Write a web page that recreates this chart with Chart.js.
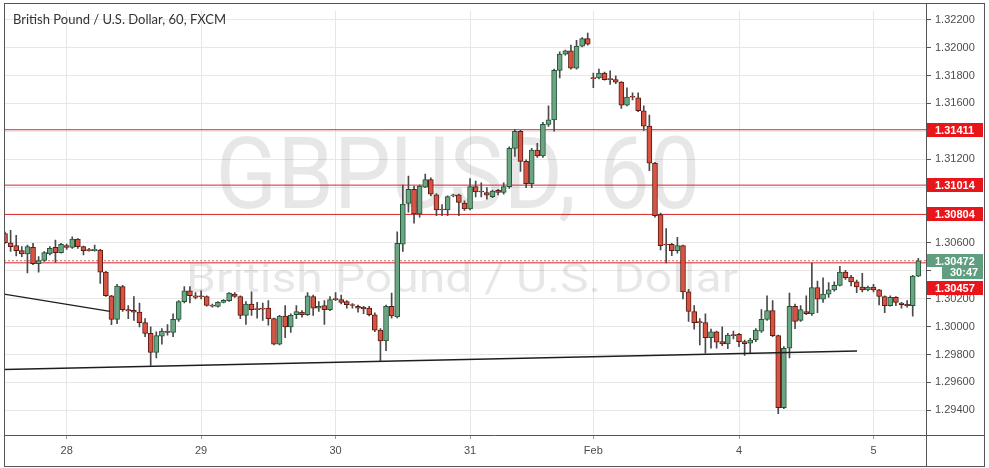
<!DOCTYPE html>
<html>
<head>
<meta charset="utf-8">
<title>GBPUSD 60</title>
<script src="https://cdn.jsdelivr.net/npm/chart.js@4.4.0/dist/chart.umd.min.js"></script>
<style>
  html, body { margin: 0; padding: 0; background: #fff; }
  #wrap { width: 989px; height: 468px; }
</style>
</head>
<body>
<div id="wrap"><canvas id="chart" width="989" height="468"></canvas></div>
<script>
'use strict';

// hourly GBP/USD candles, oldest first
const opens = [
  1.30667,1.30601,1.30580,1.30545,1.30521,1.30568,1.30451,1.30474,1.30521,1.30568,
  1.30530,1.30580,1.30568,1.30627,1.30573,1.30549,1.30545,1.30549,1.30390,1.30221,
  1.30052,1.30287,1.30122,1.30116,1.30104,1.30029,1.29951,1.29815,1.29932,1.29968,
  1.29958,1.30052,1.30179,1.30256,1.30221,1.30216,1.30216,1.30155,1.30144,1.30174,
  1.30186,1.30233,1.30216,1.30080,1.30162,1.30127,1.30132,1.30132,1.30057,1.29874,
  1.30076,1.29998,1.30085,1.30104,1.30085,1.30216,1.30132,1.30151,1.30122,1.30198,
  1.30193,1.30179,1.30158,1.30146,1.30139,1.30132,1.30085,1.29975,1.29897,1.30146,
  1.30069,1.30590,1.30883,1.30984,1.30808,1.31000,1.31054,1.30944,1.30840,1.30836,
  1.30937,1.30944,1.30886,1.30843,1.31003,1.30972,1.30961,1.30932,1.30977,1.30961,
  1.31003,1.31278,1.31399,1.31184,1.31024,1.31266,1.31223,1.31449,1.31482,1.31836,
  1.31953,1.31977,1.31852,1.32010,1.32064,1.31782,1.31782,1.31817,1.31775,1.31770,
  1.31752,1.31587,1.31648,1.31639,1.31547,1.31437,1.31172,1.30803,1.30592,1.30590,
  1.30545,1.30580,1.30249,1.30108,1.30033,1.30029,1.29921,1.29963,1.29892,1.29876,
  1.29939,1.29944,1.29892,1.29881,1.29904,1.29968,1.30052,1.30115,1.29935,1.29418,
  1.29845,1.30146,1.30045,1.30108,1.30092,1.30280,1.30197,1.30233,1.30263,1.30296,
  1.30390,1.30355,1.30320,1.30284,1.30263,1.30284,1.30263,1.30216,1.30150,1.30209,
  1.30169,1.30160,1.30150,1.30362
];
const highs = [
  1.30678,1.30690,1.30655,1.30573,1.30584,1.30596,1.30502,1.30537,1.30573,1.30620,
  1.30596,1.30592,1.30643,1.30631,1.30577,1.30561,1.30584,1.30554,1.30397,1.30225,
  1.30303,1.30296,1.30150,1.30216,1.30169,1.30057,1.29998,1.29963,1.29986,1.30015,
  1.30092,1.30186,1.30287,1.30287,1.30244,1.30256,1.30221,1.30162,1.30179,1.30193,
  1.30244,1.30244,1.30221,1.30179,1.30249,1.30174,1.30169,1.30186,1.30061,1.30080,
  1.30151,1.30092,1.30151,1.30115,1.30244,1.30226,1.30179,1.30186,1.30216,1.30244,
  1.30226,1.30186,1.30165,1.30155,1.30146,1.30146,1.30099,1.29986,1.30155,1.30240,
  1.30679,1.31014,1.31078,1.31007,1.31014,1.31094,1.31066,1.30953,1.30874,1.30937,
  1.30949,1.30949,1.30902,1.31061,1.31043,1.31031,1.30996,1.30979,1.30984,1.31031,
  1.31289,1.31414,1.31407,1.31195,1.31278,1.31313,1.31465,1.31583,1.31845,1.31970,
  1.31982,1.32017,1.32052,1.32071,1.32104,1.31817,1.31845,1.31824,1.31833,1.31798,
  1.31756,1.31712,1.31676,1.31676,1.31583,1.31517,1.31177,1.30813,1.30702,1.30597,
  1.30639,1.30585,1.30268,1.30151,1.30057,1.30092,1.29982,1.29968,1.29998,1.29951,
  1.29968,1.29951,1.29904,1.29916,1.29986,1.30122,1.30221,1.30186,1.29939,1.29857,
  1.30240,1.30162,1.30151,1.30221,1.30456,1.30327,1.30350,1.30315,1.30320,1.30432,
  1.30404,1.30367,1.30334,1.30381,1.30291,1.30303,1.30268,1.30221,1.30221,1.30216,
  1.30174,1.30186,1.30367,1.30490
];
const lows = [
  1.30596,1.30538,1.30507,1.30502,1.30385,1.30444,1.30390,1.30467,1.30514,1.30460,
  1.30526,1.30554,1.30561,1.30561,1.30514,1.30540,1.30540,1.30310,1.30216,1.30014,
  1.30021,1.30108,1.30057,1.30045,1.29998,1.29928,1.29721,1.29775,1.29874,1.29939,
  1.29928,1.30038,1.30169,1.30169,1.30198,1.30198,1.30146,1.30139,1.30139,1.30169,
  1.30181,1.30209,1.30057,1.30015,1.30080,1.30061,1.30045,1.30010,1.29869,1.29869,
  1.29921,1.29958,1.30057,1.30068,1.30080,1.30080,1.30108,1.30015,1.30115,1.30186,
  1.30162,1.30132,1.30132,1.30104,1.30092,1.30076,1.29963,1.29756,1.29827,1.30061,
  1.30062,1.30538,1.30820,1.30742,1.30784,1.30996,1.30937,1.30796,1.30796,1.30796,
  1.30930,1.30796,1.30832,1.30836,1.30930,1.30930,1.30914,1.30925,1.30944,1.30949,
  1.30991,1.31219,1.31113,1.30996,1.30996,1.31212,1.31212,1.31435,1.31400,1.31782,
  1.31946,1.31845,1.31845,1.32005,1.32017,1.31712,1.31775,1.31766,1.31735,1.31742,
  1.31564,1.31582,1.31625,1.31540,1.31407,1.31118,1.30785,1.30550,1.30456,1.30508,
  1.30526,1.30198,1.30038,1.29982,1.29869,1.29810,1.29845,1.29845,1.29864,1.29841,
  1.29911,1.29857,1.29794,1.29810,1.29892,1.29958,1.30045,1.29928,1.29376,1.29411,
  1.29775,1.29986,1.30038,1.30085,1.30080,1.30099,1.30174,1.30209,1.30254,1.30291,
  1.30338,1.30291,1.30244,1.30249,1.30256,1.30249,1.30155,1.30099,1.30146,1.30150,
  1.30132,1.30139,1.30075,1.30357
];
const closes = [
  1.30601,1.30573,1.30545,1.30521,1.30573,1.30451,1.30474,1.30530,1.30561,1.30530,
  1.30589,1.30568,1.30627,1.30573,1.30545,1.30545,1.30554,1.30390,1.30221,1.30052,
  1.30291,1.30122,1.30113,1.30104,1.30029,1.29951,1.29815,1.29935,1.29968,1.29958,
  1.30052,1.30179,1.30256,1.30221,1.30209,1.30214,1.30151,1.30146,1.30174,1.30188,
  1.30240,1.30216,1.30080,1.30162,1.30122,1.30122,1.30125,1.30057,1.29874,1.30076,
  1.29998,1.30080,1.30108,1.30085,1.30221,1.30132,1.30146,1.30122,1.30193,1.30193,
  1.30174,1.30158,1.30151,1.30132,1.30127,1.30085,1.29975,1.29897,1.30146,1.30076,
  1.30597,1.30878,1.30984,1.30808,1.31007,1.31054,1.30949,1.30836,1.30836,1.30932,
  1.30944,1.30890,1.30843,1.31003,1.30965,1.30965,1.30942,1.30972,1.30961,1.31003,
  1.31278,1.31399,1.31184,1.31024,1.31266,1.31223,1.31449,1.31482,1.31836,1.31953,
  1.31977,1.31852,1.32010,1.32064,1.32024,1.31777,1.31817,1.31770,1.31770,1.31752,
  1.31587,1.31646,1.31644,1.31547,1.31437,1.31172,1.30796,1.30580,1.30585,1.30545,
  1.30580,1.30249,1.30109,1.30029,1.30029,1.29921,1.29963,1.29888,1.29876,1.29939,
  1.29935,1.29892,1.29878,1.29904,1.29975,1.30052,1.30115,1.29935,1.29418,1.29845,
  1.30146,1.30038,1.30122,1.30092,1.30280,1.30197,1.30233,1.30263,1.30296,1.30390,
  1.30350,1.30320,1.30284,1.30263,1.30284,1.30263,1.30216,1.30150,1.30209,1.30174,
  1.30158,1.30150,1.30362,1.30472
];

// day separators: label and candle index where the day starts
const dayLabels = ['28', '29', '30', '31', 'Feb', '4', '5'];
const dayIndex = [11, 35, 59, 83, 105, 131, 155];

const priceTicks = [1.294, 1.296, 1.298, 1.300, 1.302, 1.304, 1.306, 1.308,
                    1.310, 1.312, 1.314, 1.316, 1.318, 1.320, 1.322];

// horizontal levels drawn on the chart, plus the live price
const levels = [1.31411, 1.31014, 1.30804, 1.30457];
const lastPrice = 1.30472;
const countdown = '30:47';

// trend lines as [candle index, price] pairs
const trendUpper = [[-0.18, 1.30233], [18.74, 1.30109]];
const trendLower = [[-0.18, 1.29692], [152.06, 1.29825]];

const title = 'British Pound / U.S. Dollar, 60, FXCM';
const markBig = 'GBPUSD, 60';
const markSmall = 'British Pound / U.S. Dollar';

const xMin = -0.18, xMax = 164.37;
const yMin = 1.29223, yMax = 1.32265;
const PLOT_H = 432;
const perPx = (yMax - yMin) / PLOT_H;

const UP = '#6ba583', DOWN = '#d75442';
const UP_EDGE = '#225437', DOWN_EDGE = '#5b1a13';
const LEVEL = '#d8262b';

const isUp = closes.map((c, i) => c >= opens[i]);

// where the axis tags sit, in price units
const tagSpots = levels.slice(0, 3).concat([lastPrice, lastPrice - 11.5 * perPx, lastPrice - 27.5 * perPx]);

function fitText(ctx, text, cx, y, font, width) {
  ctx.font = font;
  const w = ctx.measureText(text).width;
  ctx.save();
  ctx.translate(cx, y);
  ctx.scale(width / w, 1);
  ctx.textAlign = 'center';
  ctx.fillText(text, 0, 0);
  ctx.restore();
}

function tag(ctx, x0, x1, yc, h, bg, text) {
  ctx.fillStyle = bg;
  ctx.fillRect(x0, Math.round(yc - h / 2), x1 - x0, h);
  ctx.fillStyle = '#fff';
  ctx.font = 'bold 11px "Liberation Sans"';
  ctx.textAlign = 'left';
  ctx.textBaseline = 'middle';
  ctx.fillText(text, x0 + 8, Math.round(yc) + 0.5);
}

const decor = {
  id: 'decor',
  beforeDatasetsDraw(chart) {
    const { ctx, chartArea: a } = chart;
    ctx.save();
    ctx.beginPath();
    ctx.rect(a.left, a.top, a.right - a.left, a.bottom - a.top);
    ctx.clip();
    ctx.fillStyle = 'rgba(0,0,0,0.095)';
    ctx.textBaseline = 'alphabetic';
    fitText(ctx, markBig, 458, 208, '100px Roboto', 485);
    fitText(ctx, markSmall, 462, 292, '40px Roboto', 552);
    ctx.restore();
  },
  afterDraw(chart) {
    const { ctx, chartArea: a } = chart;
    const y = chart.scales.y;
    ctx.save();
    // title
    ctx.fillStyle = '#333';
    ctx.font = '13px Lato';
    ctx.textAlign = 'left';
    ctx.textBaseline = 'alphabetic';
    ctx.fillText(title, 13, 24);
    // frame
    ctx.strokeStyle = '#555';
    ctx.lineWidth = 1;
    ctx.strokeRect(4.5, 3.5, 980, 463);
    ctx.beginPath();
    ctx.moveTo(a.right + 0.5, 3);
    ctx.lineTo(a.right + 0.5, 467);
    ctx.moveTo(4, a.bottom + 0.5);
    ctx.lineTo(985, a.bottom + 0.5);
    ctx.stroke();
    // price tags on the axis
    const x0 = a.right + 1, x1 = 983;
    levels.slice(0, 3).forEach(v => tag(ctx, x0, x1, y.getPixelForValue(v), 14, '#e8161b', v.toFixed(5)));
    const ly = y.getPixelForValue(lastPrice);
    tag(ctx, x0, x1, ly, 13, '#5f9e7f', lastPrice.toFixed(5));
    tag(ctx, 942, x1, ly + 11.5, 13, '#5f9e7f', countdown);
    tag(ctx, x0, x1, ly + 27.5, 14, '#e8161b', levels[3].toFixed(5));
    ctx.restore();
  }
};

const flatLine = (v, color, dash, order) => ({
  type: 'line',
  data: [{ x: xMin, y: v }, { x: xMax, y: v }],
  borderColor: color,
  borderWidth: 1,
  borderDash: dash,
  pointRadius: 0,
  order: order
});

const trend = pts => ({
  type: 'line',
  data: pts.map(p => ({ x: p[0], y: p[1] })),
  borderColor: '#1e1e1e',
  borderWidth: 1.4,
  pointRadius: 0,
  order: 0
});

const chart = new Chart(document.getElementById('chart').getContext('2d'), {
  type: 'bar',
  data: {
    datasets: [
      trend(trendUpper),
      trend(trendLower),
      {
        label: 'body',
        data: opens.map((o, i) => ({ x: i, y: [Math.min(o, closes[i]), Math.max(o, closes[i])] })),
        backgroundColor: isUp.map(u => u ? UP : DOWN),
        borderColor: isUp.map(u => u ? UP_EDGE : DOWN_EDGE),
        borderWidth: 1,
        borderSkipped: false,
        barThickness: 5,
        minBarLength: 1,
        grouped: false,
        order: 1
      },
      {
        label: 'wick',
        data: lows.map((l, i) => ({ x: i, y: [l, highs[i]] })),
        backgroundColor: '#4a4a4a',
        barThickness: 1,
        grouped: false,
        order: 2
      },
      ...levels.map(v => flatLine(v, LEVEL, [], 3)),
      flatLine(lastPrice, '#c96a6a', [2, 2], 4)
    ]
  },
  options: {
    responsive: false,
    animation: false,
    events: [],
    layout: { padding: { left: 4, top: 3, right: 5, bottom: 2 } },
    plugins: { legend: { display: false }, tooltip: { enabled: false } },
    scales: {
      x: {
        type: 'linear',
        min: xMin,
        max: xMax,
        offset: false,
        border: { display: false },
        grid: { offset: false, color: '#e7e7e7', tickLength: 4, tickColor: '#999' },
        ticks: {
          autoSkip: false,
          maxRotation: 0,
          padding: 5,
          color: '#4d4d4d',
          font: { family: '"Liberation Sans"', size: 11 },
          callback: v => {
            const k = dayIndex.indexOf(v);
            return k >= 0 ? dayLabels[k] : '';
          }
        },
        afterBuildTicks: s => { s.ticks = dayIndex.map(v => ({ value: v })); },
        afterFit: s => { s.height = 31; }
      },
      y: {
        position: 'right',
        min: yMin,
        max: yMax,
        border: { display: false },
        grid: { color: '#e7e7e7', tickLength: 5, tickColor: '#555' },
        ticks: {
          padding: 4,
          color: '#4d4d4d',
          font: { family: '"Liberation Sans"', size: 11 },
          callback: v => tagSpots.some(s => Math.abs(s - v) < 11 * perPx) ? '' : v.toFixed(5)
        },
        afterBuildTicks: s => { s.ticks = priceTicks.map(v => ({ value: v })); },
        afterFit: s => { s.width = 58; }
      }
    }
  },
  plugins: [decor]
});
</script>
</body>
</html>
